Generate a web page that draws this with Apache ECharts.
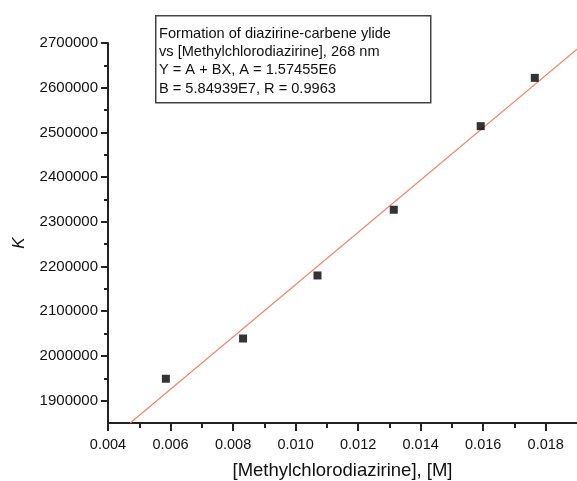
<!DOCTYPE html>
<html>
<head>
<meta charset="utf-8">
<script src="https://cdn.jsdelivr.net/npm/echarts@6/dist/echarts.min.js"></script>
<style>html,body{margin:0;padding:0;background:#fff}#c{width:577px;height:481px}</style>
</head>
<body>
<div id="c"></div>
<script>
// Data
const concentration = [0.00585, 0.00832, 0.0107, 0.01314, 0.01592, 0.01765];
const kValues = [1949000, 2039000, 2180000, 2327000, 2514000, 2622000];
// Linear fit line endpoints (Y = A + BX)
const fitX = [0.00471, 0.019];
const fitY = [1850000, 2686000];
// Tick values
const xMajorTicks = [0.004, 0.006, 0.008, 0.010, 0.012, 0.014, 0.016, 0.018];
const xMinorTicks = [0.005, 0.007, 0.009, 0.011, 0.013, 0.015, 0.017];
const yMajorTicks = [1900000, 2000000, 2100000, 2200000, 2300000, 2400000, 2500000, 2600000, 2700000];
const yMinorTicks = [1950000, 2050000, 2150000, 2250000, 2350000, 2450000, 2550000, 2650000];
const legendLines = [
  'Formation of diazirine-carbene ylide',
  'vs [Methylchlorodiazirine], 268 nm',
  'Y = A + BX, A = 1.57455E6',
  'B = 5.84939E7, R = 0.9963'
];

const FONT = 'Liberation Sans, Arial, sans-serif';
const axisColor = '#222';
const chart = echarts.init(document.getElementById('c'), null, {renderer: 'canvas'});
const xBase = {
  type: 'value', min: 0.004, max: 0.019, position: 'bottom',
  splitLine: {show: false}
};
const yBase = {
  type: 'value', min: 1850000, max: 2700000, position: 'left',
  splitLine: {show: false}
};
chart.setOption({
  animation: false,
  backgroundColor: '#fff',
  grid: {left: 108, right: 0, top: 43, bottom: 58, containLabel: false, outerBoundsMode: 'none'},
  xAxis: [
    Object.assign({}, xBase, {
      name: '[Methylchlorodiazirine], [M]',
      nameLocation: 'middle', nameGap: 38,
      nameTextStyle: {fontFamily: FONT, fontSize: 18.5, color: '#111'},
      axisLine: {show: true, lineStyle: {color: axisColor, width: 2}},
      axisTick: {show: true, length: 8, customValues: xMajorTicks, lineStyle: {color: axisColor, width: 2}},
      axisLabel: {show: true, customValues: xMajorTicks, margin: 14, fontFamily: FONT, fontSize: 14.5, color: '#111',
        formatter: v => v.toFixed(3)}
    }),
    Object.assign({}, xBase, {
      axisLine: {show: false},
      axisTick: {show: true, length: 5, customValues: xMinorTicks, lineStyle: {color: axisColor, width: 2}},
      axisLabel: {show: false}
    })
  ],
  yAxis: [
    Object.assign({}, yBase, {
      name: 'K', nameLocation: 'middle', nameGap: 80, nameRotate: 90,
      nameTextStyle: {fontFamily: FONT, fontSize: 17, color: '#111', fontStyle: 'italic', padding: [0, 20, 0, 0]},
      axisLine: {show: true, lineStyle: {color: axisColor, width: 2}},
      axisTick: {show: true, length: 7, customValues: yMajorTicks, lineStyle: {color: axisColor, width: 2}},
      axisLabel: {show: true, customValues: yMajorTicks, margin: 10, fontFamily: FONT, fontSize: 15, color: '#111',
        formatter: v => String(v)}
    }),
    Object.assign({}, yBase, {
      axisLine: {show: false},
      axisTick: {show: true, length: 4, customValues: yMinorTicks, lineStyle: {color: axisColor, width: 2}},
      axisLabel: {show: false}
    })
  ],
  series: [
    {
      type: 'line', xAxisIndex: 0, yAxisIndex: 0,
      data: fitX.map((x, i) => [x, fitY[i]]),
      showSymbol: false, symbol: 'none',
      lineStyle: {color: '#F2876E', width: 1.3},
      clip: true, z: 2
    },
    {
      type: 'scatter', xAxisIndex: 0, yAxisIndex: 0,
      data: concentration.map((x, i) => [x, kValues[i]]),
      symbol: 'rect', symbolSize: 8,
      itemStyle: {color: '#000'}, z: 3
    }
  ],
  graphic: [
    {
      type: 'rect', left: 155, top: 15,
      shape: {width: 275, height: 87},
      style: {fill: '#fff', stroke: '#444', lineWidth: 1.5}, z: 10
    },
    {
      type: 'text', left: 159, top: 24.5,
      style: {text: legendLines.join('\n'), fontFamily: FONT, fontSize: 14.6, lineHeight: 18.3, fill: '#111'},
      z: 11
    }
  ]
});
</script>
</body>
</html>
